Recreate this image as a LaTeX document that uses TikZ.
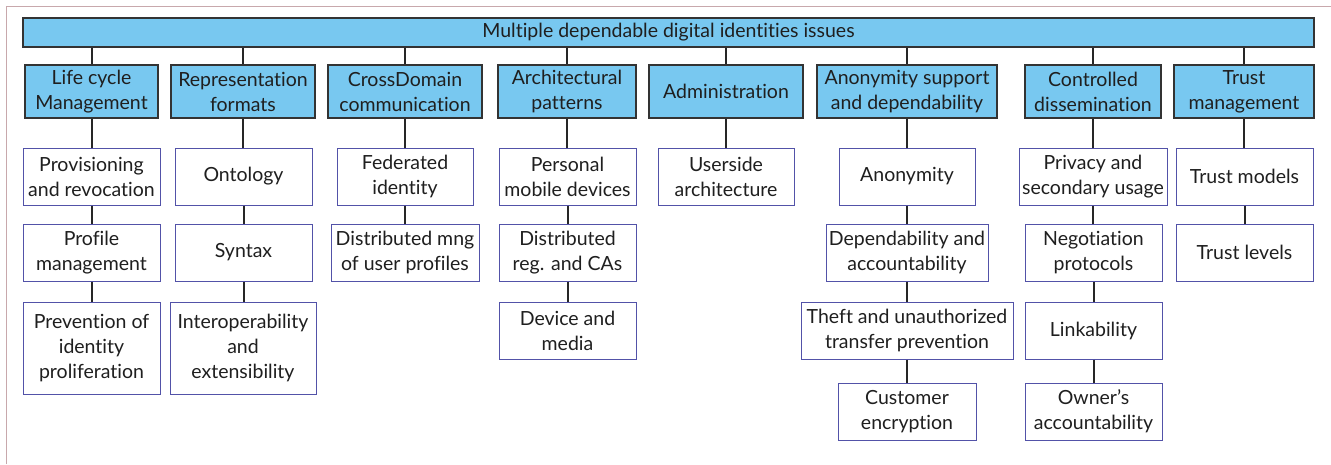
\documentclass[tikz,border=0pt]{standalone}
\usepackage{fontspec}
\setmainfont{Lato}[Ligatures={NoCommon}]
\begin{document}
\begin{tikzpicture}[x=1pt,y=-1pt,
  every node/.style={font=\fontsize{19.5}{25}\selectfont, text=black!88, align=center, inner sep=0pt},
  headbox/.style={draw=black!80, line width=1.2pt, fill=skyfill},
  catbox/.style={draw=black!80, line width=1.2pt, fill=skyfill, minimum height=53pt},
  leafbox/.style={draw=leafline, line width=1pt, fill=white},
  link/.style={draw=black!85, line width=2pt}]
\definecolor{skyfill}{RGB}{120,200,240}
\definecolor{leafline}{RGB}{82,82,168}
\definecolor{framecol}{RGB}{200,168,172}
\useasboundingbox (0,0) rectangle (1331,464);
% outer frame edges
\draw[framecol, line width=1pt] (6,464) -- (6,6) -- (1331,6);
% root
\node[headbox, minimum width=1291pt, minimum height=29pt] (root) at (668.5,32.5) {Multiple dependable digital identities issues};
% categories
\node[catbox, minimum width=133pt] (lc) at (91.5,91.5) {Life cycle\\Management};
\node[catbox, minimum width=144pt] (rf) at (243,91.5) {Representation\\formats};
\node[catbox, minimum width=154pt] (cd) at (405,91.5) {CrossDomain\\communication};
\node[catbox, minimum width=138pt] (ap) at (567,91.5) {Architectural\\patterns};
\node[catbox, minimum width=154pt] (ad) at (726,91.5) {Administration};
\node[catbox, minimum width=180pt] (an) at (907,91.5) {Anonymity support\\and dependability};
\node[catbox, minimum width=136pt] (cs) at (1093,91.5) {Controlled\\dissemination};
\node[catbox, minimum width=140pt] (tm) at (1244,91.5) {Trust\\management};
% first row of topics
\node[leafbox, minimum width=137pt, minimum height=57pt] (lc1) at (91.5,176.5) {Provisioning\\and revocation};
\node[leafbox, minimum width=137pt, minimum height=57pt] (rf1) at (243.5,176.5) {Ontology};
\node[leafbox, minimum width=136pt, minimum height=57pt] (cd1) at (405,176.5) {Federated\\identity};
\node[leafbox, minimum width=137pt, minimum height=57pt] (ap1) at (567.5,176.5) {Personal\\mobile devices};
\node[leafbox, minimum width=136pt, minimum height=57pt] (ad1) at (726,176.5) {Userside\\architecture};
\node[leafbox, minimum width=136pt, minimum height=57pt] (an1) at (907,176.5) {Anonymity};
\node[leafbox, minimum width=148pt, minimum height=57pt] (cs1) at (1093,176.5) {Privacy and\\secondary usage};
\node[leafbox, minimum width=137pt, minimum height=57pt] (tm1) at (1244.5,176.5) {Trust models};
% second row
\node[leafbox, minimum width=137pt, minimum height=57pt] (lc2) at (91.5,252.5) {Profile\\management};
\node[leafbox, minimum width=137pt, minimum height=57pt] (rf2) at (243.5,252.5) {Syntax};
\node[leafbox, minimum width=148pt, minimum height=57pt] (cd2) at (405,252.5) {Distributed mng\\of user profiles};
\node[leafbox, minimum width=137pt, minimum height=57pt] (ap2) at (567.5,252.5) {Distributed\\reg. and CAs};
\node[leafbox, minimum width=162pt, minimum height=57pt] (an2) at (907,252.5) {Dependability and\\accountability};
\node[leafbox, minimum width=137pt, minimum height=57pt] (cs2) at (1093.5,252.5) {Negotiation\\protocols};
\node[leafbox, minimum width=137pt, minimum height=57pt] (tm2) at (1244.5,252.5) {Trust levels};
% third row
\node[leafbox, minimum width=137pt, minimum height=92pt] (lc3) at (91.5,348) {Prevention of\\identity\\proliferation};
\node[leafbox, minimum width=146pt, minimum height=92pt] (rf3) at (243,348) {Interoperability\\and\\extensibility};
\node[leafbox, minimum width=137pt, minimum height=57pt] (ap3) at (567.5,330.5) {Device and\\media};
\node[leafbox, minimum width=212pt, minimum height=57pt] (an3) at (907,330.5) {Theft and unauthorized\\transfer prevention};
\node[leafbox, minimum width=137pt, minimum height=57pt] (cs3) at (1093.5,330.5) {Linkability};
% fourth row
\node[leafbox, minimum width=138pt, minimum height=57pt] (an4) at (907,411.5) {Customer\\encryption};
\node[leafbox, minimum width=137pt, minimum height=57pt] (cs4) at (1093.5,411.5) {Owner’s\\accountability};
% connectors
\foreach \c in {lc,rf,cd,ap,ad,an,cs,tm}
  \draw[link] (root.south -| \c.north) -- (\c.north);
\foreach \p/\c in {lc/lc1,lc1/lc2,lc2/lc3,rf/rf1,rf1/rf2,rf2/rf3,cd/cd1,cd1/cd2,
                   ap/ap1,ap1/ap2,ap2/ap3,ad/ad1,an/an1,an1/an2,an2/an3,an3/an4,
                   cs/cs1,cs1/cs2,cs2/cs3,cs3/cs4,tm/tm1,tm1/tm2}
  \draw[link] (\p.south) -- (\p.south |- \c.north);
\end{tikzpicture}
\end{document}
